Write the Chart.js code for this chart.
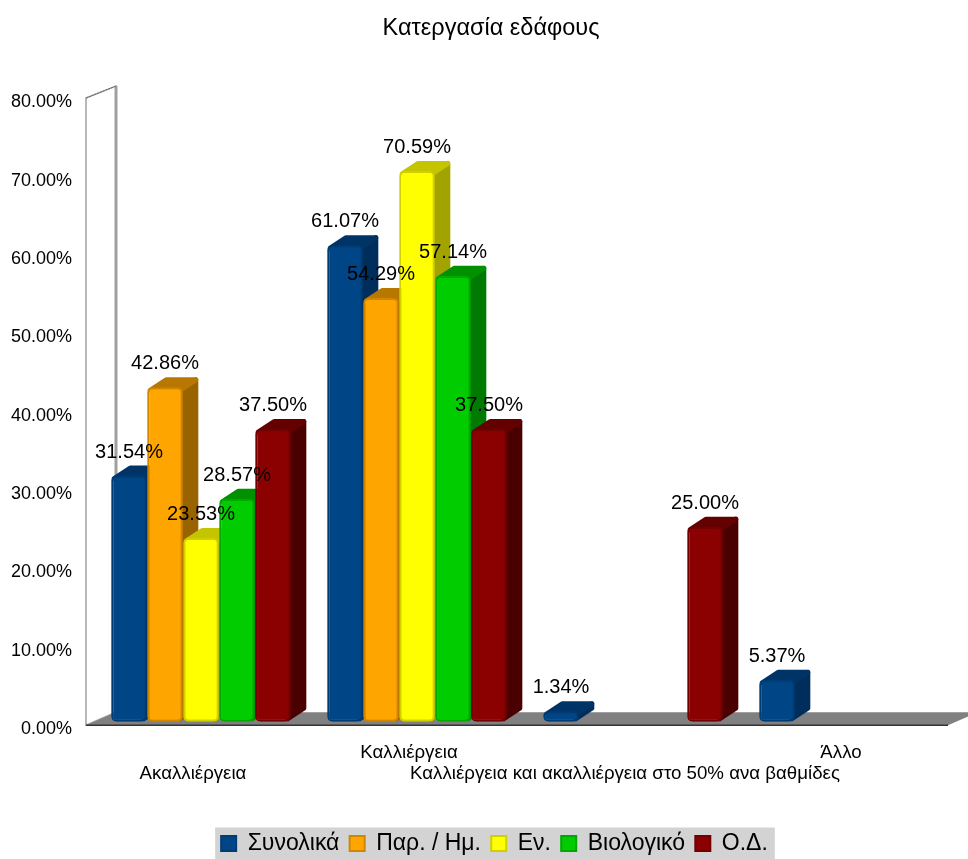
<!DOCTYPE html>
<html>
<head>
<meta charset="utf-8">
<title>Κατεργασία εδάφους</title>
<script src="https://cdn.jsdelivr.net/npm/chart.js@4"></script>
<style>
	html, body { margin: 0; padding: 0; background: #ffffff; }
	canvas { display: block; }
</style>
</head>
<body>
<canvas id="myChart" width="968" height="859"></canvas>
<script>
var categories = ['Ακαλλιέργεια', 'Καλλιέργεια', 'Καλλιέργεια και ακαλλιέργεια στο 50% ανα βαθμίδες', 'Άλλο'];
var seriesNames = ['Συνολικά', 'Παρ. / Ημ.', 'Εν.', 'Βιολογικό', 'Ο.Δ.'];

var total = [31.54, 61.07, 1.34, 5.37];
var parHm = [42.86, 54.29, null, null];
var en = [23.53, 70.59, null, null];
var bio = [28.57, 57.14, null, null];
var od = [37.50, 37.50, 25.00, null];
var seriesValues = [total, parHm, en, bio, od];

var frontColors = ['#004586', '#ffa500', '#ffff00', '#00cc00', '#8b0000'];
var edgeColors = ['#003c74', '#d08700', '#d0d000', '#00a800', '#720000'];
var topColors = ['#003466', '#b87700', '#c4c400', '#009000', '#640000'];
var sideColors = ['#002e5c', '#996300', '#a3a300', '#007a00', '#4a0000'];

// 3D offset of the bar box
var depthX = 16;
var depthY = 10.5;

var datasets = seriesNames.map(function (name, i) {
	return {
		label: name,
		data: seriesValues[i],
		yAxisID: 'yBars',
		backgroundColor: frontColors[i],
		borderColor: edgeColors[i],
		borderWidth: 2,
		borderRadius: 5,
		borderSkipped: false
	};
});

var wallAndFloor = {
	id: 'wallAndFloor',
	// the y labels stick out left of the padding, the scale clips them to its box
	afterLayout: function (chart) {
		chart.scales.y.left = 0;
		chart.legend.left += 7;
	},
	beforeDatasetsDraw: function (chart) {
		var c = chart.ctx;
		var area = chart.chartArea;
		var yBars = chart.scales.yBars;
		var left = area.left - 7;
		var back = left + 30;
		var right = area.right - 9;
		var floorFront = yBars.getPixelForValue(0) + 3.5;
		var floorBack = floorFront - 13;
		var wallTop = yBars.getPixelForValue(80) + 0.5;

		c.save();
		c.fillStyle = '#ffffff';
		c.strokeStyle = '#a0a0a0';
		c.lineWidth = 1.5;
		c.beginPath();
		c.moveTo(left, wallTop);
		c.lineTo(back, wallTop - 12);
		c.lineTo(back, floorBack);
		c.lineTo(left, floorFront);
		c.closePath();
		c.fill();
		c.stroke();
		c.lineWidth = 3;
		c.beginPath();
		c.moveTo(back, wallTop - 12);
		c.lineTo(back, floorBack);
		c.stroke();
		c.strokeStyle = '#666666';
		c.lineWidth = 1;
		c.setLineDash([2, 1]);
		c.beginPath();
		c.moveTo(left, wallTop);
		c.lineTo(back, wallTop - 12);
		c.stroke();
		c.setLineDash([]);

		c.fillStyle = '#808080';
		c.beginPath();
		c.moveTo(left, floorFront);
		c.lineTo(right, floorFront);
		c.lineTo(right + 30, floorBack);
		c.lineTo(back, floorBack);
		c.closePath();
		c.fill();
		c.strokeStyle = '#333333';
		c.lineWidth = 1.5;
		c.beginPath();
		c.moveTo(left, floorFront);
		c.lineTo(right, floorFront);
		c.stroke();
		c.restore();
	}
};

function drawFace(c, points, color) {
	c.fillStyle = color;
	c.strokeStyle = color;
	c.lineWidth = 5;
	c.lineJoin = 'round';
	c.beginPath();
	c.moveTo(points[0][0], points[0][1]);
	for (var i = 1; i < points.length; i++) {
		c.lineTo(points[i][0], points[i][1]);
	}
	c.closePath();
	c.fill();
	c.stroke();
}

// tops and sides go left to right under all the front faces
var barDepth = {
	id: 'barDepth',
	beforeDatasetsDraw: function (chart) {
		var c = chart.ctx;
		c.save();
		seriesNames.forEach(function (name, i) {
			chart.getDatasetMeta(i).data.forEach(function (bar, j) {
				if (seriesValues[i][j] === null) return;
				var p = bar.getProps(['x', 'y', 'base', 'width'], true);
				var l = p.x - p.width / 2 + 3;
				var r = p.x + p.width / 2 - 3;
				var t = p.y + 3;
				var b = p.base - 3;
				drawFace(c, [[r, t], [r + depthX, t - depthY], [r + depthX, b - depthY], [r, b]], sideColors[i]);
				drawFace(c, [[l, t], [l + depthX, t - depthY], [r + depthX, t - depthY], [r, t]], topColors[i]);
			});
		});
		c.restore();
	}
};

var valueLabels = {
	id: 'valueLabels',
	afterDatasetsDraw: function (chart) {
		var c = chart.ctx;
		c.save();
		c.font = '20px "Liberation Sans"';
		c.fillStyle = '#000000';
		c.textAlign = 'center';
		c.textBaseline = 'middle';
		seriesNames.forEach(function (name, i) {
			chart.getDatasetMeta(i).data.forEach(function (bar, j) {
				var value = seriesValues[i][j];
				if (value === null) return;
				var p = bar.getProps(['x', 'y'], true);
				c.fillText(value.toFixed(2) + '%', p.x, p.y - 23.5);
			});
		});
		c.restore();
	}
};

var legendBox = {
	id: 'legendBox',
	beforeDraw: function (chart) {
		var hits = chart.legend.legendHitBoxes;
		var first = hits[0];
		var last = hits[hits.length - 1];
		var mid = first.top + first.height / 2;
		var c = chart.ctx;
		c.save();
		c.fillStyle = '#d3d3d3';
		c.fillRect(first.left - 6, mid - 16, last.left + last.width - first.left + 13, 32);
		c.restore();
	}
};

var ctx = document.getElementById('myChart').getContext('2d');
var myChart = new Chart(ctx, {
	type: 'bar',
	data: {
		labels: categories,
		datasets: datasets
	},
	plugins: [legendBox, wallAndFloor, barDepth, valueLabels],
	options: {
		responsive: false,
		animation: false,
		events: [],
		layout: {
			padding: { left: 25, right: 11, top: 0, bottom: -6 }
		},
		categoryPercentage: 5 / 6,
		barPercentage: 0.99,
		scales: {
			x: {
				grid: { display: false },
				border: { display: false },
				ticks: {
					color: '#000000',
					font: { family: 'Liberation Sans', size: 18.7, lineHeight: 1.12 },
					autoSkip: false,
					maxRotation: 0,
					minRotation: 0,
					labelOffset: -8,
					padding: 5.7,
					callback: function (value, index) {
						var label = categories[index];
						return index % 2 ? [label, ''] : ['', label];
					}
				},
				afterFit: function (scale) {
					scale.height = 92.7;
				}
			},
			y: {
				position: 'left',
				min: 0,
				max: 80,
				grid: { display: false },
				border: { display: false },
				ticks: {
					color: '#000000',
					font: { family: 'Liberation Sans', size: 18 },
					stepSize: 10,
					padding: 13,
					callback: function (value) {
						return value.toFixed(2) + '%';
					}
				},
				afterFit: function (scale) {
					scale.width = 68;
				}
			},
			yBars: {
				display: false,
				min: -0.94,
				max: 79.36
			}
		},
		plugins: {
			title: {
				display: true,
				text: 'Κατεργασία εδάφους',
				color: '#000000',
				font: { family: 'Liberation Sans', size: 23.5, weight: 'normal' },
				padding: { top: 14, bottom: 60.3 }
			},
			legend: {
				position: 'bottom',
				labels: {
					color: '#000000',
					font: { family: 'Liberation Sans', size: 23 },
					boxWidth: 15,
					boxHeight: 15,
					padding: 10.25
				}
			},
			tooltip: { enabled: false }
		}
	}
});
</script>
</body>
</html>
